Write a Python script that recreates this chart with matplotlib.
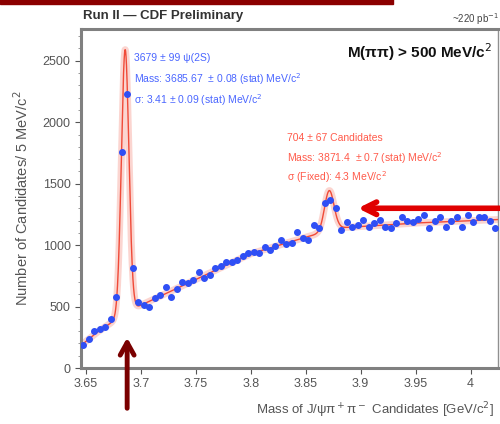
import numpy as np
import matplotlib
matplotlib.use("Agg")
import matplotlib.pyplot as plt
from matplotlib.ticker import MultipleLocator

# binned J/psi pi pi mass spectrum, 5 MeV bins
bin_centers = np.arange(76) * 0.005 + 3.6475
counts = [
    187, 236, 300, 318, 334, 400, 579, 1760, 2233, 815,
    538, 513, 500, 570, 595, 660, 580, 640, 700, 693,
    720, 782, 733, 760, 815, 830, 864, 864, 880, 913,
    937, 945, 937, 986, 962, 990, 1043, 1010, 1019, 1108,
    1060, 1043, 1165, 1141, 1345, 1370, 1304, 1125, 1190, 1149,
    1165, 1206, 1149, 1180, 1206, 1149, 1141, 1182, 1230, 1200,
    1190, 1215, 1247, 1141, 1200, 1230, 1149, 1200, 1230, 1149,
    1247, 1190, 1230, 1230, 1200, 1141,
]

# background shape of the fit (mass in GeV, candidates per bin)
bkg_mass = [3.645, 3.66, 3.675, 3.695, 3.75, 3.80, 3.85, 3.865, 3.88, 3.95, 4.03]
bkg_level = [180, 290, 380, 490, 720, 930, 1065, 1100, 1140, 1180, 1210]

# fitted signal parameters: yield, mass [GeV], width [GeV]
psi_yield, psi_mass, psi_sigma = 3679, 3.68567, 0.00341
x_yield, x_mass, x_sigma = 704, 3.8714, 0.0043
bin_width = 0.005


def gauss(m, n, mu, sig):
    return n * bin_width / (np.sqrt(2 * np.pi) * sig) * np.exp(-0.5 * ((m - mu) / sig) ** 2)


plt.rcParams['font.family'] = ['Liberation Sans Narrow', 'Liberation Sans', 'DejaVu Sans']

fig = plt.figure(figsize=(5.0, 4.24), dpi=100)
ax = fig.add_axes([0.162, 0.132, 0.834, 0.8])

m = np.linspace(3.6455, 4.025, 2000)
fit = np.interp(m, bkg_mass, bkg_level) + gauss(m, psi_yield, psi_mass, psi_sigma) + gauss(m, x_yield, x_mass, x_sigma)
ax.plot(m, fit, color='#f9b3aa', lw=5, alpha=0.55, zorder=2)
ax.plot(m, fit, color='#f04a38', lw=1.0, zorder=3)
ax.plot(bin_centers, counts, 'o', color='#2f4ff5', ms=4, mec='#2f4ff5', zorder=4)

ax.set_xlim(3.6455, 4.025)
ax.set_ylim(0, 2760)
ax.set_xticks([3.65, 3.7, 3.75, 3.8, 3.85, 3.9, 3.95, 4.0])
ax.set_xticklabels(['3.65', '3.7', '3.75', '3.8', '3.85', '3.9', '3.95', '4'])
ax.yaxis.set_major_locator(MultipleLocator(500))
ax.yaxis.set_minor_locator(MultipleLocator(100))
ax.tick_params(axis='both', which='major', labelsize=9, colors='#555555', direction='out', length=4)
ax.tick_params(axis='y', which='minor', colors='#888888', direction='out', length=2)

for side in ('left', 'bottom', 'top'):
    ax.spines[side].set_color('#808080')
    ax.spines[side].set_linewidth(2.2)
ax.spines['right'].set_color('#909090')
ax.spines['right'].set_linewidth(1)

ax.set_ylabel('Number of Candidates/ 5 MeV/c$^2$', fontsize=10.5, color='#555555', labelpad=8)
ax.set_xlabel('Mass of J/\u03c8\u03c0$^+$\u03c0$^-$ Candidates [GeV/c$^2$]', fontsize=9.5,
              color='#555555', ha='right', va='center')
ax.xaxis.set_label_coords(0.99, -0.125)

# header
fig.patches.append(plt.Rectangle((0, 0.99), 0.786, 0.012, transform=fig.transFigure,
                                 color='#8b0000', zorder=5))
fig.text(0.166, 0.955, 'Run II \u2014 CDF Preliminary', fontsize=9.5, weight='bold', color='#333333')
fig.text(0.998, 0.945, '~220 pb$^{-1}$', fontsize=7, color='#444444', ha='right')

ax.text(0.985, 0.93, 'M(\u03c0\u03c0) > 500 MeV/c$^2$', transform=ax.transAxes, fontsize=11,
        weight='bold', ha='right', va='center', color='#111111')

blue = '#4a66ff'
ax.text(3.694, 2520, '3679 \u00b1 99 \u03c8(2S)', fontsize=7.5, color=blue, va='center')
ax.text(3.694, 2350, 'Mass: 3685.67  \u00b1 0.08 (stat) MeV/c$^2$', fontsize=7.5, color=blue, va='center')
ax.text(3.694, 2180, '\u03c3: 3.41 \u00b1 0.09 (stat) MeV/c$^2$', fontsize=7.5, color=blue, va='center')

red = '#ff5a4a'
ax.text(3.833, 1870, '704 \u00b1 67 Candidates', fontsize=7.5, color=red, va='center')
ax.text(3.833, 1710, 'Mass: 3871.4  \u00b1 0.7 (stat) MeV/c$^2$', fontsize=7.5, color=red, va='center')
ax.text(3.833, 1550, '\u03c3 (Fixed): 4.3 MeV/c$^2$', fontsize=7.5, color=red, va='center')

# arrows marking the two peaks
ax.annotate('', xy=(3.6875, 270), xytext=(3.6875, -350), annotation_clip=False,
            arrowprops=dict(arrowstyle='->,head_length=0.9,head_width=0.5', color='#7a0000', lw=3.5))
ax.annotate('', xy=(3.895, 1300), xytext=(4.03, 1300), annotation_clip=False,
            arrowprops=dict(arrowstyle='->,head_length=0.9,head_width=0.45', color='#e00000', lw=4))

fig.savefig('out.png', dpi=100)
